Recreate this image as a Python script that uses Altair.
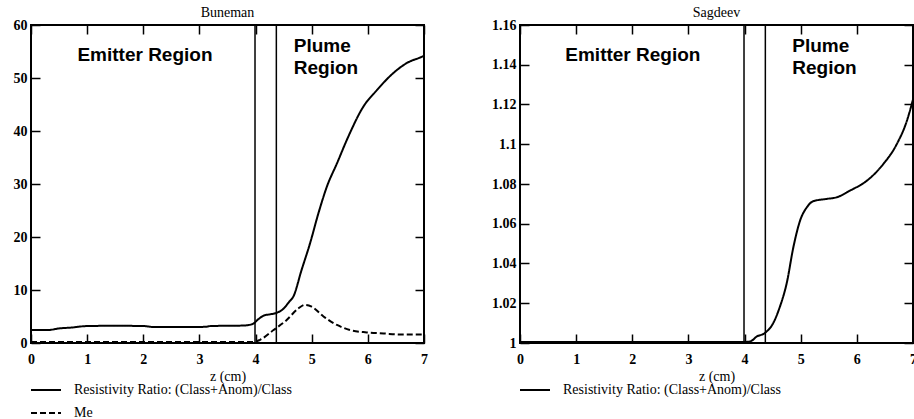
import altair as alt
import pandas as pd

# ---- data ----
bun_ratio_z = [0, 0.3, 0.5, 0.7, 1.0, 1.5, 2.0, 2.2, 2.7, 3.1, 3.2, 3.8, 3.95, 4.05, 4.15, 4.25, 4.35,
               4.5, 4.6, 4.67, 4.82, 4.97, 5.12, 5.27, 5.45, 5.65, 5.92, 6.16, 6.45, 6.69, 6.96, 7.0]
bun_ratio_v = [2.45, 2.45, 2.75, 2.9, 3.2, 3.25, 3.2, 3.0, 3.0, 3.05, 3.2, 3.3, 3.6, 4.5, 5.2, 5.4, 5.6,
               6.5, 7.8, 8.7, 13.8, 18.8, 24.5, 29.5, 33.9, 38.9, 44.6, 47.7, 50.9, 52.8, 54.0, 54.2]
bun_me_z = [0, 3.97, 4.08, 4.32, 4.55, 4.76, 4.88, 5.0, 5.21, 5.45, 5.68, 5.98, 6.28, 6.57, 7.0]
bun_me_v = [0.2, 0.2, 0.6, 2.45, 4.3, 6.5, 7.2, 6.85, 5.0, 3.4, 2.45, 2.0, 1.8, 1.6, 1.6]

sag_ratio_z = [0, 3.99, 4.10, 4.22, 4.36, 4.51, 4.63, 4.75, 4.87, 4.99, 5.11, 5.22, 5.46, 5.64,
               5.88, 6.18, 6.47, 6.71, 6.89, 7.0]
sag_ratio_v = [1.0005, 1.0005, 1.0008, 1.0033, 1.005, 1.010, 1.0183, 1.030, 1.0483, 1.0617, 1.0683,
               1.0713, 1.0725, 1.0733, 1.0767, 1.0817, 1.090, 1.100, 1.1117, 1.1225]

region_lines = [3.99, 4.37]
ratio_name = "Resistivity Ratio: (Class+Anom)/Class"
me_name = "Me"

bun_labels = {"text": ["Emitter Region", "Plume", "Region"], "z": [2.03, 4.68, 4.68], "v": [54.3, 56.0, 51.9]}
sag_labels = {"text": ["Emitter Region", "Plume", "Region"], "z": [2.01, 4.85, 4.85], "v": [1.1449, 1.1494, 1.1384]}

bun_yticks = [0, 10, 20, 30, 40, 50, 60]
sag_yticks = [1.0, 1.02, 1.04, 1.06, 1.08, 1.1, 1.12, 1.14, 1.16]
xticks = [0, 1, 2, 3, 4, 5, 6, 7]

SERIF = "Liberation Serif"
SANS = "Liberation Sans"
W, H = 393, 318
TICK = 9


def panel(title, curves, ydom, yticks, labels, series_names, dashes):
    xs = alt.Scale(domain=[0, 7], nice=False, zero=False)
    ys = alt.Scale(domain=ydom, nice=False, zero=False)
    common = dict(tickSize=TICK, offset=-TICK, domain=False, tickColor="black", tickWidth=1.5,
                  grid=False)
    xaxis_bottom = alt.Axis(values=xticks, title="z (cm)", labelFont=SERIF, labelFontSize=14,
                            labelFontWeight="bold", labelColor="black", labelPadding=9,
                            titleFont=SERIF, titleFontSize=14, titleFontWeight="normal",
                            titleColor="black", titlePadding=3, labelFlush=False, **common)
    yaxis_left = alt.Axis(values=yticks, title=None, labelFont=SERIF, labelFontSize=14,
                          labelFontWeight="bold", labelColor="black", labelPadding=4, format="~r",
                          labelFlush=False, **common)
    xaxis_top = alt.Axis(values=xticks, title=None, labels=False, orient="top", **common)
    yaxis_right = alt.Axis(values=yticks, title=None, labels=False, orient="right", **common)

    df = pd.DataFrame(curves)
    lines = alt.Chart(df).mark_line(color="black", strokeWidth=2, interpolate="monotone").encode(
        x=alt.X("z:Q", scale=xs, axis=xaxis_bottom),
        y=alt.Y("v:Q", scale=ys, axis=yaxis_left),
        detail="s:N",
        strokeDash=alt.StrokeDash(
            "s:N",
            scale=alt.Scale(domain=series_names, range=dashes),
            legend=alt.Legend(title=None, orient="none", legendX=-1, legendY=349,
                              symbolType="stroke", symbolSize=900, symbolStrokeWidth=2,
                              symbolStrokeColor="black", labelFont=SERIF, labelFontSize=14,
                              labelColor="black", labelOffset=12, labelLimit=0, rowPadding=-2,
                              padding=0),
        ),
    )
    rules = alt.Chart(pd.DataFrame({"z": region_lines})).mark_rule(color="black", strokeWidth=1.5).encode(
        x=alt.X("z:Q", scale=xs, axis=xaxis_top),
    )
    ldf = pd.DataFrame(labels)
    txt_c = alt.Chart(ldf.iloc[:1]).mark_text(font=SANS, fontSize=19, fontWeight="bold",
                                               color="black", align="center", baseline="middle").encode(
        x=alt.X("z:Q", scale=xs, axis=None),
        y=alt.Y("v:Q", scale=ys, axis=yaxis_right),
        text="text:N",
    )
    txt_l = alt.Chart(ldf.iloc[1:]).mark_text(font=SANS, fontSize=19, fontWeight="bold",
                                               color="black", align="left", baseline="middle").encode(
        x=alt.X("z:Q", scale=xs, axis=None),
        y=alt.Y("v:Q", scale=ys, axis=None),
        text="text:N",
    )
    return alt.layer(lines, rules, txt_c, txt_l).resolve_axis(x="independent", y="independent").properties(
        width=W, height=H,
        title=alt.TitleParams(title, font=SERIF, fontSize=14, fontWeight="normal", color="black",
                              anchor="middle", offset=-2),
    )


bun_curves = {
    "z": bun_ratio_z + bun_me_z,
    "v": bun_ratio_v + bun_me_v,
    "s": [ratio_name] * len(bun_ratio_z) + [me_name] * len(bun_me_z),
}
sag_curves = {
    "z": sag_ratio_z,
    "v": sag_ratio_v,
    "s": [ratio_name] * len(sag_ratio_z),
}

left = panel("Buneman", bun_curves, [0, 60], bun_yticks, bun_labels, [ratio_name, me_name], [[1, 0], [6, 3]])
right = panel("Sagdeev", sag_curves, [1.0, 1.16], sag_yticks, sag_labels, [ratio_name], [[1, 0]])

chart = alt.hconcat(left, right, spacing=96, bounds="flush").properties(
    padding={"left": 12, "top": 5, "right": -4, "bottom": 0},
    background="white",
).configure_view(stroke="black", strokeWidth=2).resolve_scale(strokeDash="independent")

chart.save("out.html", embed_options={"renderer": "svg", "actions": False})
